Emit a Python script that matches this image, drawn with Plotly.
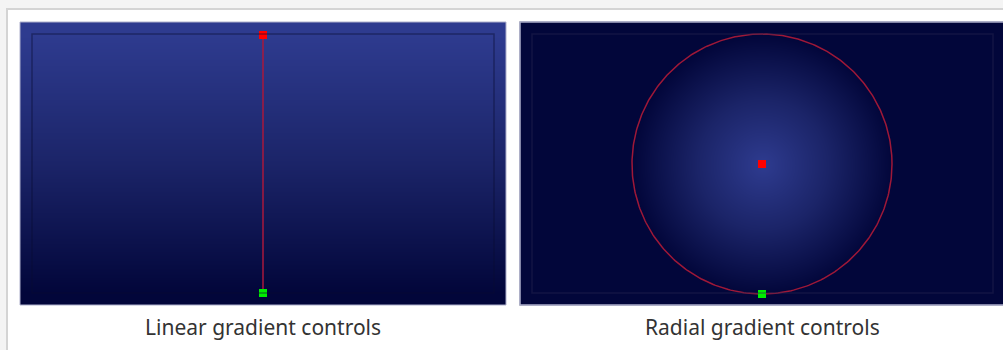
import numpy as np
import plotly.graph_objects as go

# ---- data ----
panel_titles = ["Linear gradient controls", "Radial gradient controls"]
linear_start_point = [263, 35]   # red control (top)
linear_end_point = [263, 293]    # green control (bottom)
radial_center = [762, 164]       # red control (center)
radial_edge = [762, 294]         # green control (radius handle)
gradient_colors = ["#2e3b8f", "#1b2468", "#02063a"]  # light -> dark

# ---- layout geometry ----
W, H = 1003, 350
left_panel = [20, 22, 506, 305]
right_panel = [520, 22, 1010, 305]
left_frame = [32, 34, 494, 293]
right_frame = [532, 34, 993, 293]

fig = go.Figure()

colorscale = [[0.0, gradient_colors[0]], [0.5, gradient_colors[1]], [1.0, gradient_colors[2]]]

# Linear gradient panel
y0, y1 = linear_start_point[1], linear_end_point[1]
ny = left_panel[3] - left_panel[1]
yedges = np.linspace(left_panel[1], left_panel[3], ny + 1)
yc = (yedges[:-1] + yedges[1:]) / 2
t = np.clip((yc - y0) / (y1 - y0), 0, 1)
fig.add_trace(go.Heatmap(
    x=[left_panel[0], left_panel[2]], y=yedges, z=t.reshape(-1, 1),
    colorscale=colorscale, zmin=0, zmax=1, showscale=False, hoverinfo="skip"))

# Radial gradient panel
r = radial_edge[1] - radial_center[1]
step = 3
xe = np.arange(right_panel[0] - step, right_panel[2] + 2 * step, step)
ye = np.arange(right_panel[1] - step, right_panel[3] + 2 * step, step)
xc = (xe[:-1] + xe[1:]) / 2
ycc = (ye[:-1] + ye[1:]) / 2
XX, YY = np.meshgrid(xc, ycc)
d = np.sqrt((XX - radial_center[0]) ** 2 + (YY - radial_center[1]) ** 2)
tr = np.round(np.clip(d / r, 0, 1), 3)

shapes = []
# page border
shapes.append(dict(type="rect", x0=7, y0=9, x1=W + 10, y1=H + 10,
                   line=dict(color="#d4d4d4", width=2), fillcolor="white", layer="below"))
# panel outlines
for p in (left_panel, right_panel):
    shapes.append(dict(type="rect", x0=p[0], y0=p[1], x1=p[2], y1=p[3],
                       line=dict(color="#aeb0cc", width=1), layer="above"))
# inner frames
shapes.append(dict(type="rect", x0=left_frame[0], y0=left_frame[1], x1=left_frame[2], y1=left_frame[3],
                   line=dict(color="rgba(10,14,50,0.45)", width=1.5)))
shapes.append(dict(type="rect", x0=right_frame[0], y0=right_frame[1], x1=right_frame[2], y1=right_frame[3],
                   line=dict(color="rgba(40,40,80,0.45)", width=1.5)))
fig.update_layout(shapes=shapes)

fig.add_trace(go.Heatmap(
    x=xc, y=ycc, z=tr, zsmooth="best",
    colorscale=colorscale, zmin=0, zmax=1, showscale=False, hoverinfo="skip"))

# linear control line
fig.add_trace(go.Scatter(
    x=[linear_start_point[0], linear_end_point[0]], y=[linear_start_point[1], linear_end_point[1]],
    mode="lines", line=dict(color="#a8183c", width=1.5), hoverinfo="skip"))
# radial circle
ang = np.linspace(0, 2 * np.pi, 361)
fig.add_trace(go.Scatter(
    x=radial_center[0] + r * np.cos(ang), y=radial_center[1] + r * np.sin(ang),
    mode="lines", line=dict(color="#9e1838", width=1.5), hoverinfo="skip"))

# control handles
fig.add_trace(go.Scatter(
    x=[linear_start_point[0], radial_center[0]], y=[linear_start_point[1], radial_center[1]],
    mode="markers", marker=dict(symbol="square", size=8, color="#ff0000", line=dict(width=0)),
    hoverinfo="skip"))
fig.add_trace(go.Scatter(
    x=[linear_end_point[0], radial_edge[0]], y=[linear_end_point[1], radial_edge[1]],
    mode="markers", marker=dict(symbol="square", size=8, color="#00ee00", line=dict(width=0)),
    hoverinfo="skip"))

# captions
for i, title in enumerate(panel_titles):
    cx = (left_panel[0] + left_panel[2]) / 2 if i == 0 else radial_center[0]
    fig.add_annotation(x=cx, y=327, text=title, showarrow=False,
                       font=dict(family="Noto Sans, Open Sans, sans-serif", size=21, color="#333333"),
                       xanchor="center", yanchor="middle")

# white covers around the radial panel (clip heatmap overflow)
fig.add_shape(type="rect", x0=right_panel[0] - 12, y0=right_panel[3] + 0.5, x1=W + 10, y1=313,
              line=dict(width=0), fillcolor="white", layer="above")
fig.add_shape(type="rect", x0=right_panel[0] - 12, y0=right_panel[1] - 6, x1=right_panel[0] - 0.5,
              y1=313, line=dict(width=0), fillcolor="white", layer="above")
fig.add_shape(type="rect", x0=right_panel[0] - 12, y0=right_panel[1] - 6, x1=W + 10, y1=right_panel[1] - 0.5,
              line=dict(width=0), fillcolor="white", layer="above")
fig.add_shape(type="line", x0=right_panel[0], y0=right_panel[3], x1=W + 10, y1=right_panel[3],
              line=dict(color="#aeb0cc", width=1), layer="above")
fig.add_shape(type="line", x0=right_panel[0], y0=right_panel[1], x1=W + 10, y1=right_panel[1],
              line=dict(color="#aeb0cc", width=1), layer="above")
fig.add_shape(type="line", x0=right_panel[0], y0=right_panel[1], x1=right_panel[0], y1=right_panel[3],
              line=dict(color="#aeb0cc", width=1), layer="above")

fig.update_layout(
    width=W, height=H, margin=dict(l=0, r=0, t=0, b=0),
    paper_bgcolor="#f4f4f4", plot_bgcolor="rgba(0,0,0,0)", showlegend=False,
    xaxis=dict(range=[0, W], visible=False, fixedrange=True),
    yaxis=dict(range=[H, 0], visible=False, fixedrange=True),
)
fig.write_html("out.html", config={"displayModeBar": False},
               post_script="document.body.style.margin='0px';document.body.style.overflow='hidden';")
